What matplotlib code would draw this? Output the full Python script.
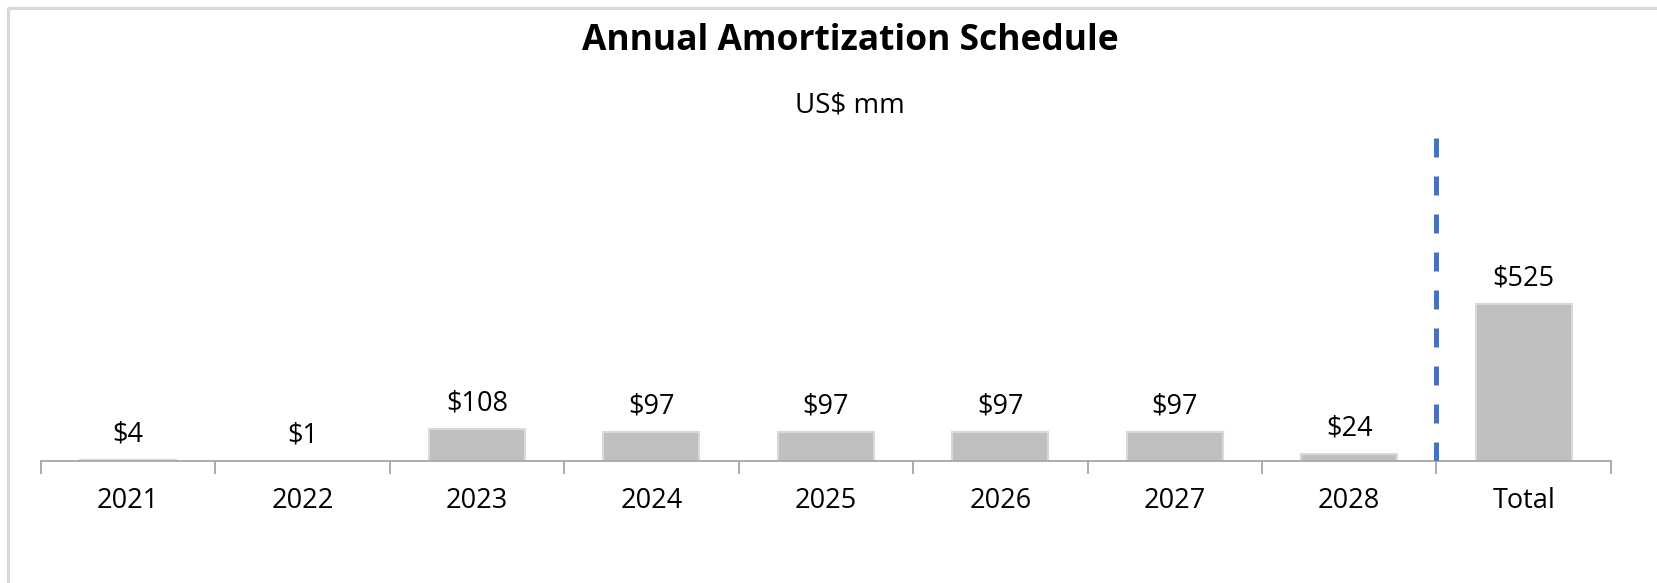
import numpy as np
import matplotlib
matplotlib.use('Agg')
from matplotlib import pyplot as plt
from matplotlib.lines import Line2D

plt.rcParams['font.family'] = ['Open Sans', 'DejaVu Sans']

# data
categories = ['2021', '2022', '2023', '2024', '2025', '2026', '2027', '2028', 'Total']
values = [4, 1, 108, 97, 97, 97, 97, 24, 525]
labels = ['$' + str(v) for v in values]

fig = plt.figure(figsize=(16.57, 5.83), dpi=100)
ax = fig.add_axes([0.02456, 0.2093, 0.9722 - 0.02456, 0.7736 - 0.2093])

x = np.arange(len(categories))
bars = ax.bar(x, values, width=0.55, color='#bfbfbf', edgecolor='#d9d9d9', linewidth=1.5, zorder=2)

for xi, v, lab in zip(x, values, labels):
    ax.annotate(lab, (xi, v), xytext=(0, 13), textcoords='offset points',
                ha='center', va='baseline', fontsize=19.5, color='#000000')

# dashed separator before Total
ax.axvline(len(categories) - 1.5, color='#4472c4', lw=3.6, dashes=(3.8, 3.8), zorder=3)

ax.set_xlim(-0.5, len(categories) - 0.5)
ax.set_ylim(0, 1100)

ax.set_xticks(x)
ax.set_xticklabels(categories, fontsize=19.5)
ax.set_xticks(np.arange(-0.5, len(categories)), minor=True)
ax.tick_params(axis='x', which='major', length=0, pad=19)
ax.tick_params(axis='x', which='minor', length=9, width=1.3, color='#a6a6a6')
ax.set_yticks([])
for s in ['top', 'right', 'left']:
    ax.spines[s].set_visible(False)
ax.spines['bottom'].set_color('#a6a6a6')
ax.spines['bottom'].set_linewidth(1.3)

# titles are centred a bit right of the image middle
fig.text(0.513, 1 - 50 / 583, 'Annual Amortization Schedule', ha='center', va='baseline',
         fontsize=25.5, fontweight='bold')
fig.text(0.513, 1 - 112 / 583, 'US$ mm', ha='center', va='baseline', fontsize=20)

# chart border (left and top only visible)
bx = 7.5 / 1657
by = 1 - 7.5 / 583
fig.add_artist(Line2D([bx, bx, 1], [0, by, by], transform=fig.transFigure,
                      color='#d9d9d9', lw=2.2))

fig.savefig('out.png', dpi=100)
